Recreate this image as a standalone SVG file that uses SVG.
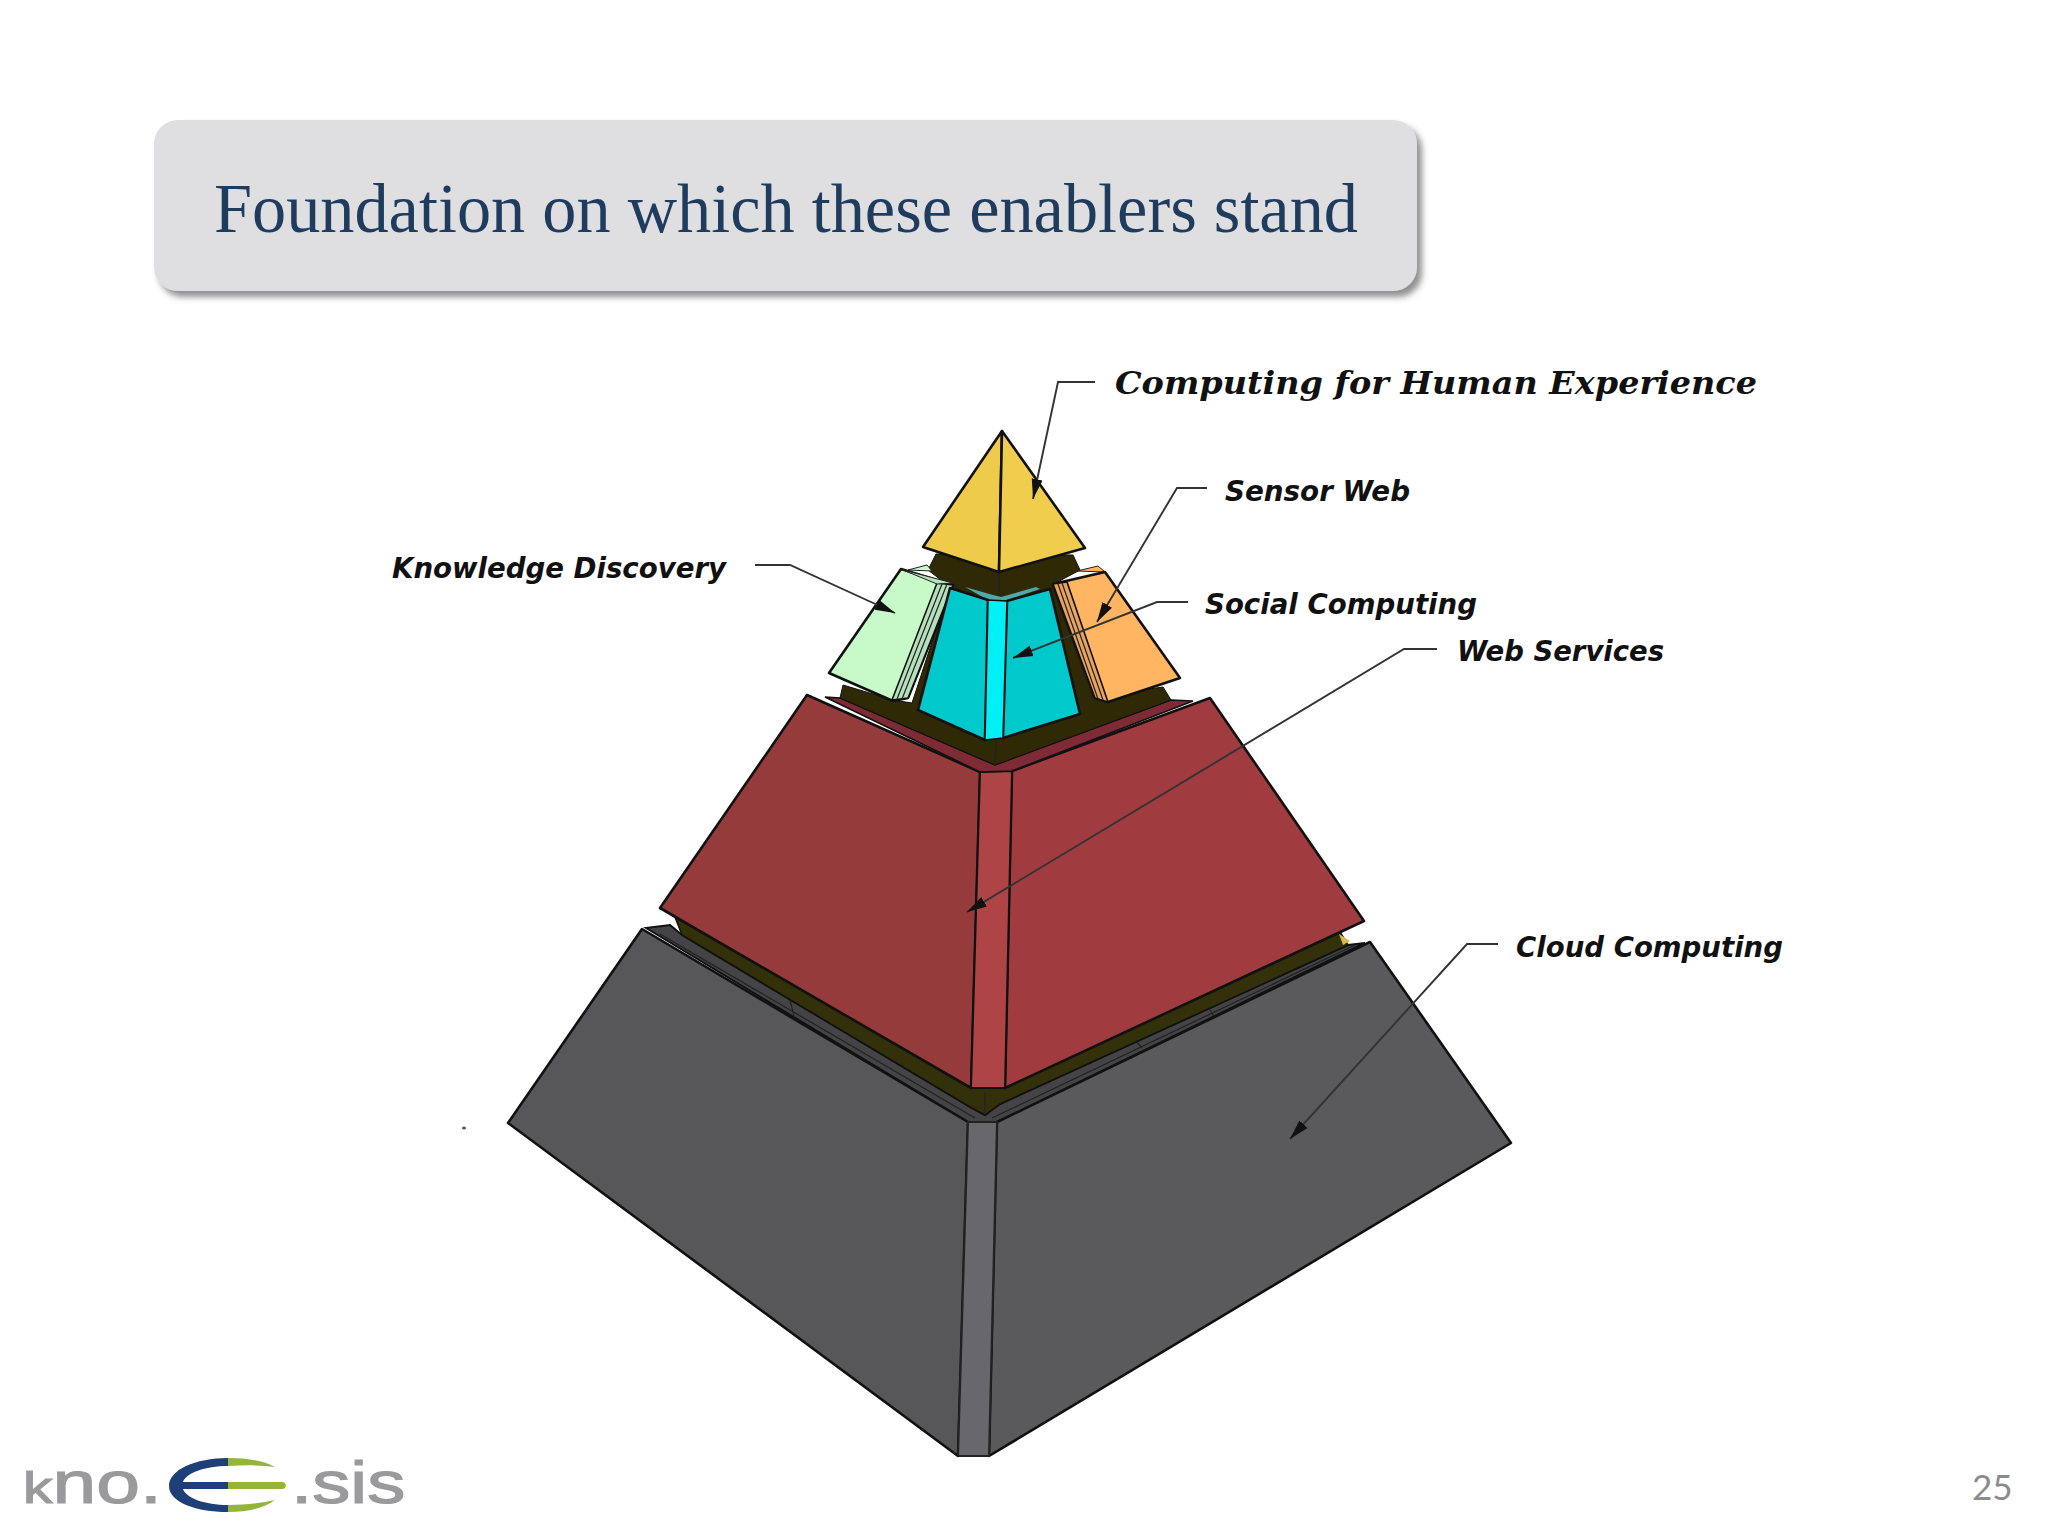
<svg xmlns="http://www.w3.org/2000/svg" width="2048" height="1536" viewBox="0 0 2048 1536">
<style>
.e{stroke:#111;stroke-width:2.6;stroke-linejoin:round}
.t{stroke:#222;stroke-width:1.2;fill:none}
.l{font-family:"DejaVu Sans",sans-serif;font-weight:700;font-style:italic;font-size:28px;fill:#111}
.ld{fill:none;stroke:#333;stroke-width:1.9}
.lg{font-family:"Liberation Sans",sans-serif;fill:#9a9a9c;font-size:60px;stroke:#9a9a9c;stroke-width:1.2}
</style>
<defs>
<filter id="sh" x="-5%" y="-10%" width="110%" height="125%"><feDropShadow dx="5" dy="6" stdDeviation="3" flood-color="#555" flood-opacity=".65"/></filter>
<marker id="a" markerUnits="userSpaceOnUse" markerWidth="22" markerHeight="14" refX="20" refY="7" orient="auto"><path d="M0 1.5L20 7L0 12.5z" fill="#111"/></marker>
</defs>
<rect width="2048" height="1536" fill="#fff"/>
<g id="title">
<rect x="154" y="120" width="1263" height="171" rx="24" fill="#dfdfe1" filter="url(#sh)"/>
<text x="214" y="232" font-family="Liberation Serif,serif" font-size="70" fill="#1f3c5f" textLength="1144" lengthAdjust="spacingAndGlyphs">Foundation on which these enablers stand</text>
</g>
<g id="cloud-computing">
<polygon points="646,928 670,925 682,935 970,1107 985,1115 1000,1104 1348,945 1365,943 997,1122 968,1122" fill="#444447" stroke="#111" stroke-width="2"/>
<path class="t" d="M660 934L975 1118M1355 945L992 1118M790 1000L795 1020M1210 1010L1216 1020M1135 1040L1142 1048"/>
<polygon points="642,929 968,1122 958,1456 508,1123" fill="#575659" class="e"/>
<polygon points="1370,942 997,1122 989,1456 1511,1143" fill="#5a595c" class="e"/>
<polygon points="968,1122 997,1122 989,1456 958,1456" fill="#68676b" stroke="#222" stroke-width="2"/>
</g>
<g id="band"><polygon points="675,917 971,1088 1005,1088 1340,932 1348,945 1000,1104 985,1115 970,1107 682,935" fill="#33310a" stroke="#111" stroke-width="1.5"/><path class="t" d="M985 1092V1113"/>
<polygon points="1339,934 1350,941 1343,945" fill="#d9b94a"/></g>
<g id="web-services">
<polygon points="807,695 980,772 971,1088 660,908" fill="#963b3b" class="e"/>
<polygon points="1210,698 1012,771 1005,1088 1364,921" fill="#a03c40" class="e"/>
<polygon points="980,772 1012,771 1005,1088 971,1088" fill="#ae4445" stroke="#111" stroke-width="2"/>
<polygon points="825,697 840,698 995,765 1171,700 1193,701 1012,771 980,772" fill="#7f2b36" stroke="#111" stroke-width="1.6"/>
</g>
<g id="core">
<polygon points="936,554 1073,555 1080,570 1052,585 1093,697 1163,687 1171,700 995,765 840,698 843,685 893,700 912,703 950,587 928,570" fill="#2f2a05" stroke="#111"/>
<path class="t" d="M999 572V595M996 740L995 765"/>
</g>
<g id="knowledge-discovery">
<polygon points="908,570 927,565 932,571" fill="#c8f9c8" stroke="#222"/>
<polygon points="901,569 953,585 908,698 893,701 829,673" fill="#c8f9c8" class="e"/>
<polygon points="937,583 953,585 908,698 892,700" fill="#b5e0bd" stroke="#111" stroke-width="1.6"/>
<polygon points="903,570 953,583 937,584" fill="#b5e0bd" stroke="#222"/>
<path class="t" d="M942 584L897 699M947 584L902 699"/>
</g>
<g id="sensor-web">
<polygon points="1077,571 1098,566 1105,572" fill="#ffb562" stroke="#222"/>
<polygon points="1053,584 1105,572 1180,678 1108,702 1095,698" fill="#ffb562" class="e"/>
<polygon points="1053,584 1067,582 1108,702 1095,698" fill="#e8a35e" stroke="#111" stroke-width="1.6"/>
<path class="t" d="M1058 584L1098 699M1062 583L1103 700"/>
</g>
<g id="social-computing">
<polygon points="965,587 993,595 1001,597 1036,587 1040,589 1007,600 988,600" fill="#4fa9a8"/>
<polygon points="950,588 988,600 985,740 918,710" fill="#00c8cb" class="e"/>
<polygon points="1007,601 1050,589 1080,714 1003,738" fill="#00c8cb" class="e"/>
<polygon points="988,600 1007,601 1003,738 985,740" fill="#00f0f5" stroke="#111" stroke-width="1.6"/>
</g>
<g id="computing-for-human-experience">
<polygon points="1002,431 923,547 999,572" fill="#eecb4a" class="e"/>
<polygon points="1002,431 999,572 1085,548" fill="#f0cd4d" class="e"/>
</g>
<g id="connectors">
<path class="ld" d="M1095 382H1058L1033 499" marker-end="url(#a)"/>
<path class="ld" d="M1207 488H1177L1097 622" marker-end="url(#a)"/>
<path class="ld" d="M1188 602H1157L1013 658" marker-end="url(#a)"/>
<path class="ld" d="M755 565H790L895 613" marker-end="url(#a)"/>
<path class="ld" d="M1437 649H1404L967 912" marker-end="url(#a)"/>
<path class="ld" d="M1498 944H1467L1290 1139" marker-end="url(#a)"/>
</g>
<g id="labels">
<text x="1115" y="394" font-family="DejaVu Serif,serif" font-weight="700" font-style="italic" font-size="32" fill="#111" textLength="642" lengthAdjust="spacingAndGlyphs">Computing for Human Experience</text>
<text class="l" x="1225" y="501" textLength="185" lengthAdjust="spacingAndGlyphs">Sensor Web</text>
<text class="l" x="392" y="578" textLength="334" lengthAdjust="spacingAndGlyphs">Knowledge Discovery</text>
<text class="l" x="1205" y="614" textLength="272" lengthAdjust="spacingAndGlyphs">Social Computing</text>
<text class="l" x="1457" y="661" textLength="207" lengthAdjust="spacingAndGlyphs">Web Services</text>
<text class="l" x="1516" y="957" textLength="267" lengthAdjust="spacingAndGlyphs">Cloud Computing</text>
</g>
<ellipse cx="464" cy="1128" rx="2" ry="1.5" fill="#555"/>
<g id="logo">
<text class="lg" transform="translate(23 1503) scale(1.31 1)"><tspan font-size="45">k</tspan>no.</text>
<text class="lg" transform="translate(291 1503) scale(1.27 1)">.sis</text>
<path d="M228 1458C195 1458 169 1470 169 1486C169 1502 195 1512 228 1512V1505C205 1505 186 1498 183 1489H228V1482H183C186 1473 205 1466 228 1466z" fill="#1f3f78"/>
<path d="M228 1458C248 1458 264 1461 275 1467C262 1465 245 1465 228 1466zM228 1482H282C287 1482 287 1489 282 1489H228zM228 1505C245 1505 262 1503 275 1500C264 1508 248 1512 228 1512z" fill="#94b43a"/>
</g>
<text id="page-number" x="1972" y="1500" font-family="Lato,sans-serif" font-size="35" fill="#8b8b8b">25</text>
</svg>
